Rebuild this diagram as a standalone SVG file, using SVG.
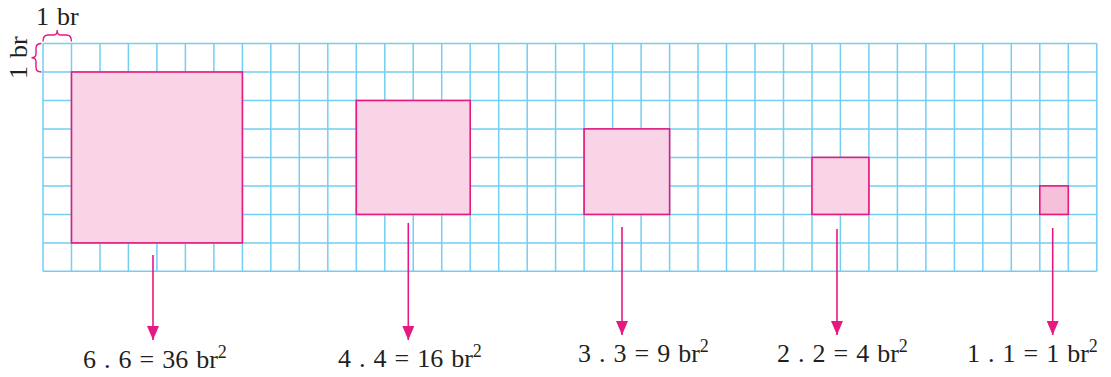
<svg xmlns="http://www.w3.org/2000/svg" width="1111" height="377" viewBox="0 0 1111 377">
<style>
.grid{stroke:#74cdf2;stroke-width:1.5;fill:none}
.sq{fill:#f9d3e6;stroke:#e5197f;stroke-width:1.6}
.sq1{fill:#f6c0da}
.brace{fill:none;stroke:#e5197f;stroke-width:1.4}
.arr{stroke:#e5197f;stroke-width:1.6;fill:none}
.lbl{font-family:"Liberation Serif",serif;font-size:26px;word-spacing:1.5px;fill:#231f20}
.sup{font-size:18px}
</style>
<defs>
<marker id="ah" markerUnits="userSpaceOnUse" markerWidth="14" markerHeight="12" refX="14" refY="6" orient="auto">
<path d="M0,0 L14,6 L0,12 Z" fill="#e5197f"/>
</marker>
</defs>
<g id="grid">
<path class="grid" d="M43,43.5V271.3M71.5,43.5V271.3M100,43.5V271.3M128.4,43.5V271.3M156.9,43.5V271.3M185.4,43.5V271.3M213.9,43.5V271.3M242.4,43.5V271.3M270.8,43.5V271.3M299.3,43.5V271.3M327.8,43.5V271.3M356.3,43.5V271.3M384.8,43.5V271.3M413.2,43.5V271.3M441.7,43.5V271.3M470.2,43.5V271.3M498.7,43.5V271.3M527.2,43.5V271.3M555.6,43.5V271.3M584.1,43.5V271.3M612.6,43.5V271.3M641.1,43.5V271.3M669.6,43.5V271.3M698,43.5V271.3M726.5,43.5V271.3M755,43.5V271.3M783.5,43.5V271.3M812,43.5V271.3M840.4,43.5V271.3M868.9,43.5V271.3M897.4,43.5V271.3M925.9,43.5V271.3M954.4,43.5V271.3M982.8,43.5V271.3M1011.3,43.5V271.3M1039.8,43.5V271.3M1068.3,43.5V271.3M1096.8,43.5V271.3M43,43.5H1096.8M43,72H1096.8M43,100.5H1096.8M43,128.9H1096.8M43,157.4H1096.8M43,185.9H1096.8M43,214.4H1096.8M43,242.9H1096.8M43,271.3H1096.8"/>
</g>
<g id="sq6"><rect class="sq" x="71.5" y="72" width="170.9" height="170.9"/></g>
<g id="sq4"><rect class="sq" x="356.3" y="100.5" width="113.9" height="113.9"/></g>
<g id="sq3"><rect class="sq" x="584.1" y="128.9" width="85.5" height="85.5"/></g>
<g id="sq2"><rect class="sq" x="812" y="157.4" width="56.9" height="57"/></g>
<g id="sq1"><rect class="sq sq1" x="1039.8" y="185.9" width="28.5" height="28.5"/></g>
<g id="unit-labels">
<path class="brace" d="M43,41.5 Q43,35 48,35 H54 Q57.2,35 57.2,30 Q57.2,35 60.5,35 H66.5 Q71.5,35 71.5,41.5"/>
<text class="lbl" x="36" y="25">1 br</text>
<path class="brace" d="M41.5,43.5 Q36,43.5 36,48 V54 Q36,57.7 31.5,57.7 Q36,57.7 36,61.5 V67.5 Q36,72 41.5,72"/>
<text class="lbl" transform="translate(27,79) rotate(-90)">1 br</text>
</g>
<g id="connectors">
<line class="arr" x1="153" y1="255" x2="153" y2="340" marker-end="url(#ah)"/>
<line class="arr" x1="408.3" y1="223" x2="408.3" y2="340" marker-end="url(#ah)"/>
<line class="arr" x1="622" y1="227" x2="622" y2="335" marker-end="url(#ah)"/>
<line class="arr" x1="837" y1="229" x2="837" y2="335" marker-end="url(#ah)"/>
<line class="arr" x1="1052.7" y1="228" x2="1052.7" y2="335" marker-end="url(#ah)"/>
</g>
<g id="labels">
<text class="lbl" x="83" y="368">6 . 6 = 36 br<tspan class="sup" dy="-10">2</tspan></text>
<text class="lbl" x="338" y="367">4 . 4 = 16 br<tspan class="sup" dy="-10">2</tspan></text>
<text class="lbl" x="578" y="362">3 . 3 = 9 br<tspan class="sup" dy="-10">2</tspan></text>
<text class="lbl" x="777" y="362">2 . 2 = 4 br<tspan class="sup" dy="-10">2</tspan></text>
<text class="lbl" x="967" y="362">1 . 1 = 1 br<tspan class="sup" dy="-10">2</tspan></text>
</g>
</svg>
